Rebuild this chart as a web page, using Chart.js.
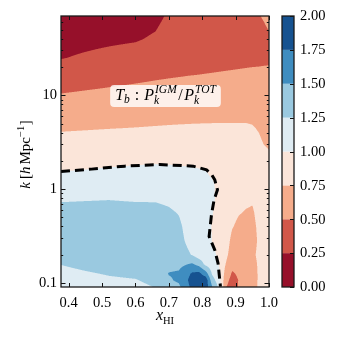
<!DOCTYPE html>
<html><head><meta charset="utf-8">
<script src="https://cdn.jsdelivr.net/npm/chart.js@4"></script>
<style>html,body{margin:0;padding:0;background:#fff}canvas{display:block}</style>
</head><body>
<canvas id="c" width="338" height="338"></canvas>
<script>
// ---------------- data ----------------
const xHI = [0.377, 0.45, 0.52, 0.6, 0.66, 0.7, 0.73, 0.77, 0.79, 0.81, 0.83, 0.85, 0.87, 0.89, 0.91, 0.93, 0.95, 0.97, 0.985, 1.0];
const log10k = [-1.045, -0.97, -0.9, -0.8, -0.7, -0.55, -0.4, -0.25, -0.1, 0.05, 0.2, 0.35, 0.5, 0.65, 0.8, 1.0, 1.2, 1.4, 1.6, 1.844];
// P_k^IGM / P_k^TOT : one list per xHI value, from smallest k to largest k
const ratio = [
  [1.11,1.15,1.19,1.255,1.34,1.38,1.37,1.32,1.225,1.107,0.992,0.904,0.816,0.727,0.635,0.513,0.377,0.24,0.17,0.12],
  [1.14,1.18,1.23,1.30,1.36,1.39,1.38,1.33,1.232,1.119,1.005,0.915,0.825,0.736,0.649,0.533,0.406,0.277,0.19,0.13],
  [1.17,1.22,1.265,1.33,1.38,1.40,1.39,1.33,1.24,1.13,1.02,0.926,0.835,0.745,0.661,0.55,0.432,0.309,0.21,0.14],
  [1.20,1.24,1.29,1.35,1.39,1.40,1.38,1.32,1.227,1.13,1.034,0.94,0.847,0.754,0.674,0.568,0.459,0.342,0.23,0.15],
  [1.255,1.30,1.35,1.40,1.41,1.40,1.37,1.31,1.228,1.135,1.041,0.948,0.855,0.762,0.683,0.581,0.479,0.379,0.279,0.19],
  [1.40,1.47,1.51,1.43,1.39,1.36,1.33,1.28,1.206,1.121,1.036,0.948,0.858,0.767,0.689,0.589,0.49,0.42,0.36,0.28],
  [1.45,1.54,1.53,1.44,1.35,1.31,1.29,1.239,1.168,1.097,1.026,0.945,0.857,0.77,0.693,0.595,0.497,0.44,0.38,0.30],
  [1.82,1.85,1.78,1.53,1.24,1.17,1.13,1.11,1.09,1.06,1.02,0.94,0.857,0.773,0.698,0.602,0.506,0.406,0.35,0.31],
  [1.88,1.90,1.82,1.42,1.12,1.10,1.08,1.07,1.06,1.04,1.01,0.935,0.855,0.774,0.70,0.605,0.51,0.41,0.355,0.315],
  [1.90,1.92,1.62,1.19,1.10,1.07,1.06,1.05,1.04,1.03,1.004,0.927,0.85,0.775,0.701,0.608,0.515,0.415,0.36,0.32],
  [1.52,1.35,1.22,1.10,1.04,0.995,0.99,1.005,1.02,1.02,0.97,0.91,0.84,0.775,0.704,0.611,0.52,0.42,0.365,0.33],
  [1.20,1.12,1.05,0.99,0.97,0.96,0.95,0.96,0.97,0.96,0.93,0.88,0.83,0.775,0.705,0.614,0.525,0.425,0.37,0.34],
  [0.51,0.58,0.66,0.75,0.80,0.84,0.86,0.88,0.89,0.89,0.88,0.86,0.83,0.775,0.705,0.616,0.53,0.43,0.375,0.35],
  [0.40,0.42,0.47,0.58,0.66,0.70,0.76,0.80,0.83,0.85,0.86,0.85,0.83,0.775,0.706,0.618,0.535,0.435,0.38,0.36],
  [0.52,0.51,0.54,0.60,0.64,0.67,0.71,0.76,0.80,0.82,0.84,0.84,0.82,0.775,0.707,0.621,0.54,0.44,0.385,0.37],
  [0.62,0.62,0.64,0.66,0.67,0.68,0.70,0.74,0.78,0.81,0.83,0.83,0.82,0.775,0.708,0.623,0.545,0.445,0.39,0.38],
  [0.69,0.68,0.68,0.70,0.72,0.70,0.71,0.73,0.77,0.80,0.82,0.82,0.80,0.765,0.703,0.622,0.55,0.45,0.41,0.45],
  [0.77,0.77,0.77,0.77,0.78,0.77,0.78,0.80,0.81,0.82,0.82,0.80,0.78,0.735,0.678,0.61,0.553,0.453,0.43,0.49],
  [0.85,0.85,0.85,0.85,0.85,0.85,0.85,0.85,0.85,0.84,0.82,0.79,0.74,0.69,0.645,0.592,0.557,0.457,0.44,0.52],
  [0.87,0.87,0.87,0.87,0.87,0.87,0.87,0.87,0.86,0.84,0.81,0.77,0.725,0.68,0.636,0.589,0.56,0.46,0.47,0.56]
];
const levels = [0, 0.25, 0.5, 0.75, 1.0, 1.25, 1.5, 1.75, 2.0];
const levelColors = ['#96102a','#d15749','#f5ac8b','#fbe5d9','#dfecf3','#9ac9e0','#3f8dc0','#165290'];
// dashed contour (ratio = 1)
const dashX = [0.377, 0.4683, 0.568, 0.6725, 0.7728, 0.8128, 0.8287, 0.8376, 0.8457, 0.8355, 0.8277, 0.8206, 0.8376, 0.8474, 0.8546];
const dashK = [1.538, 1.633, 1.757, 1.827, 1.757, 1.604, 1.42, 1.256, 0.983, 0.769, 0.533, 0.313, 0.2244, 0.162, 0.0914];
const xTickValues = [0.4, 0.5, 0.6, 0.7, 0.8, 0.9, 1.0];
const yTickValues = [0.1, 1, 10];
const yTickLabels = ['0.1', '1', '10'];
const cbTickLabels = ['0.00','0.25','0.50','0.75','1.00','1.25','1.50','1.75','2.00'];

// ---------------- drawing ----------------
const SERIF = "'Liberation Serif', 'DejaVu Serif', serif";
Chart.defaults.color = '#000';

function hexRgb(h){ return [parseInt(h.slice(1,3),16), parseInt(h.slice(3,5),16), parseInt(h.slice(5,7),16)]; }
const rgbLevels = levelColors.map(hexRgb);
function levelIndex(v){
  let k = 0;
  while (k < levels.length - 2 && v >= levels[k+1]) k++;
  return k;
}
function locate(arr, v){
  let i = 0;
  while (i < arr.length - 2 && v > arr[i+1]) i++;
  const t = Math.min(1, Math.max(0, (v - arr[i]) / (arr[i+1] - arr[i])));
  return [i, t];
}

const fieldPlugin = {
  id: 'field',
  beforeDatasetsDraw(chart){
    const {ctx, chartArea: a, scales} = chart;
    const xs = scales.x, ys = scales.y;
    const x0 = Math.round(a.left), x1 = Math.round(a.right), y0 = Math.round(a.top), y1 = Math.round(a.bottom);
    const w = x1 - x0, h = y1 - y0, S = 3;
    const colLoc = [], rowLoc = [];
    for (let i = 0; i < w*S; i++) colLoc.push(locate(xHI, xs.getValueForPixel(x0 + (i+0.5)/S)));
    for (let j = 0; j < h*S; j++) rowLoc.push(locate(log10k, Math.log10(ys.getValueForPixel(y0 + (j+0.5)/S))));
    const img = ctx.createImageData(w, h);
    for (let py = 0; py < h; py++){
      for (let px = 0; px < w; px++){
        let r = 0, g = 0, b = 0;
        for (let sy = 0; sy < S; sy++){
          const [j, ty] = rowLoc[py*S + sy];
          for (let sx = 0; sx < S; sx++){
            const [i, tx] = colLoc[px*S + sx];
            const v = (ratio[i][j]*(1-tx) + ratio[i+1][j]*tx)*(1-ty) + (ratio[i][j+1]*(1-tx) + ratio[i+1][j+1]*tx)*ty;
            const c = rgbLevels[levelIndex(v)];
            r += c[0]; g += c[1]; b += c[2];
          }
        }
        const o = (py*w + px)*4, n = S*S;
        img.data[o] = r/n; img.data[o+1] = g/n; img.data[o+2] = b/n; img.data[o+3] = 255;
      }
    }
    ctx.putImageData(img, x0, y0);
  }
};

function drawRuns(ctx, items, x, y, measureOnly){
  let cx = x;
  for (const it of items){
    if (it.sup !== undefined){
      ctx.font = it.f;
      const w1 = ctx.measureText(it.sup).width, w2 = ctx.measureText(it.sub).width;
      if (!measureOnly){ ctx.fillText(it.sup, cx, y + it.dsup); ctx.fillText(it.sub, cx - 1, y + it.dsub); }
      cx += Math.max(w1, w2) + (it.gap || 0);
    } else {
      ctx.font = it.f;
      if (!measureOnly) ctx.fillText(it.t, cx + (it.dx||0), y + (it.dy||0));
      cx += ctx.measureText(it.t).width + (it.dx||0) + (it.gap||0);
    }
  }
  return cx - x;
}

const decorPlugin = {
  id: 'decor',
  afterDatasetsDraw(chart){
    const {ctx, chartArea: a, scales} = chart;
    const xs = scales.x;
    ctx.save();
    // annotation box
    const main = `italic 16px ${SERIF}`, rom = `16px ${SERIF}`, scr = `italic 11.5px ${SERIF}`;
    const items = [
      {t:'T', f:main}, {t:'b', f:scr, dy:3.5, gap:1},
      {t:' : ', f:rom, gap:1},
      {t:'P', f:main, gap:1}, {sup:'IGM', sub:'k', f:scr, dsup:-6.5, dsub:4.5, gap:1.5},
      {t:'/', f:rom, gap:1.5},
      {t:'P', f:main, gap:1}, {sup:'TOT', sub:'k', f:scr, dsup:-6.5, dsub:4.5}
    ];
    ctx.textBaseline = 'alphabetic';
    const tw = drawRuns(ctx, items, 0, 0, true);
    const cx = xs.getPixelForValue(0.69), bw = tw + 10;
    ctx.fillStyle = 'rgba(255,255,255,0.82)';
    ctx.beginPath();
    ctx.roundRect(cx - bw/2, 85, bw, 22, 4);
    ctx.fill();
    ctx.fillStyle = '#000';
    drawRuns(ctx, items, cx - tw/2, 99.5, false);
    ctx.restore();
  },
  afterDraw(chart){
    const {ctx, chartArea: a, scales} = chart;
    const xs = scales.x, ys = scales.y, cb = scales.cb;
    ctx.save();
    ctx.strokeStyle = '#111';
    ctx.lineWidth = 1;
    // ticks inward
    ctx.beginPath();
    for (const v of xTickValues){
      const p = Math.round(xs.getPixelForValue(v)) + 0.5;
      ctx.moveTo(p, a.bottom); ctx.lineTo(p, a.bottom - 4);
      ctx.moveTo(p, a.top); ctx.lineTo(p, a.top + 4);
    }
    for (let d = -2; d <= 1; d++){
      for (let m = 1; m <= 9; m++){
        const v = m * Math.pow(10, d);
        if (v < ys.min || v > ys.max) continue;
        const p = Math.round(ys.getPixelForValue(v)) + 0.5;
        const L = m === 1 ? 4.5 : 2.2;
        ctx.moveTo(a.left, p); ctx.lineTo(a.left + L, p);
        ctx.moveTo(a.right, p); ctx.lineTo(a.right - L, p);
      }
    }
    ctx.stroke();
    // frame
    ctx.lineWidth = 1.3;
    ctx.strokeStyle = '#1a1a1a';
    ctx.strokeRect(a.left, a.top, a.right - a.left, a.bottom - a.top);
    // colorbar
    const bx0 = a.right + 13, bx1 = a.right + 25;
    for (let k = 0; k < levelColors.length; k++){
      const yt = cb.getPixelForValue(levels[k+1]), yb = cb.getPixelForValue(levels[k]);
      ctx.fillStyle = levelColors[k];
      ctx.fillRect(bx0, yt, bx1 - bx0, yb - yt);
    }
    ctx.lineWidth = 1;
    ctx.strokeStyle = '#111';
    ctx.beginPath();
    for (const v of levels){
      const p = Math.round(cb.getPixelForValue(v)) + 0.5;
      ctx.moveTo(bx1, p); ctx.lineTo(bx1 - 4, p);
    }
    ctx.stroke();
    ctx.lineWidth = 1.3;
    ctx.strokeStyle = '#1a1a1a';
    ctx.strokeRect(bx0, cb.getPixelForValue(2), bx1 - bx0, cb.getPixelForValue(0) - cb.getPixelForValue(2));
    // colorbar labels
    ctx.fillStyle = '#000';
    ctx.font = `14.5px ${SERIF}`;
    ctx.textAlign = 'left';
    ctx.textBaseline = 'middle';
    levels.forEach((v, i) => ctx.fillText(cbTickLabels[i], bx1 + 6, cb.getPixelForValue(v) + 0.5));
    // axis titles
    ctx.textBaseline = 'alphabetic';
    const xt = [{t:'x', f:`italic 16px ${SERIF}`}, {t:'HI', f:`10.5px ${SERIF}`, dy:3.5}];
    const xw = drawRuns(ctx, xt, 0, 0, true);
    drawRuns(ctx, xt, (a.left + a.right)/2 - xw/2, 320, false);
    const yt = [
      {t:'k', f:`italic 15px ${SERIF}`, gap:3},
      {t:'[', f:`15px ${SERIF}`},
      {t:'h', f:`italic 15px ${SERIF}`, gap:2},
      {t:'Mpc', f:`15px ${SERIF}`},
      {t:'\u22121', f:`10.5px ${SERIF}`, dy:-6.5, gap:0.5},
      {t:']', f:`15px ${SERIF}`}
    ];
    const yw = drawRuns(ctx, yt, 0, 0, true);
    ctx.translate(30, (a.top + a.bottom)/2 + 3);
    ctx.rotate(-Math.PI/2);
    drawRuns(ctx, yt, -yw/2, 0, false);
    ctx.restore();
  }
};

const tickFont = {family: SERIF, size: 14.5};
new Chart(document.getElementById('c'), {
  type: 'scatter',
  data: {
    datasets: [{
      data: dashX.map((x, i) => ({x, y: dashK[i]})),
      showLine: true,
      borderColor: '#000',
      borderWidth: 3,
      borderDash: [9, 5],
      borderCapStyle: 'butt',
      pointRadius: 0,
      fill: false,
      tension: 0
    }]
  },
  options: {
    responsive: false,
    devicePixelRatio: 1,
    animation: false,
    events: [],
    layout: {padding: {top: 16, left: 0, right: 0, bottom: 0}},
    plugins: {legend: {display: false}, tooltip: {enabled: false}},
    scales: {
      x: {
        type: 'linear', position: 'bottom', min: 0.377, max: 1.0, bounds: 'data',
        grid: {display: false, drawTicks: false}, border: {display: false},
        afterBuildTicks: s => { s.ticks = xTickValues.map(v => ({value: v})); },
        afterFit: s => { s.height = 51; },
        ticks: {font: tickFont, padding: 7, autoSkip: false, maxRotation: 0, callback: v => v.toFixed(1)}
      },
      y: {
        type: 'logarithmic', position: 'left', min: 0.0906, max: 69.9, bounds: 'data',
        grid: {display: false, drawTicks: false}, border: {display: false},
        afterBuildTicks: s => { s.ticks = yTickValues.map(v => ({value: v})); },
        afterFit: s => { s.width = 61; },
        ticks: {font: tickFont, padding: 4, autoSkip: false,
          callback: v => { const i = yTickValues.findIndex(t => Math.abs(Math.log10(t) - Math.log10(v)) < 1e-6); return i >= 0 ? yTickLabels[i] : ''; }}
      },
      cb: {
        type: 'linear', axis: 'y', position: 'right', min: 0, max: 2, bounds: 'data',
        grid: {display: false, drawTicks: false}, border: {display: false},
        afterFit: s => { s.width = 69; },
        ticks: {display: false}
      }
    }
  },
  plugins: [fieldPlugin, decorPlugin]
});
</script>
</body></html>
